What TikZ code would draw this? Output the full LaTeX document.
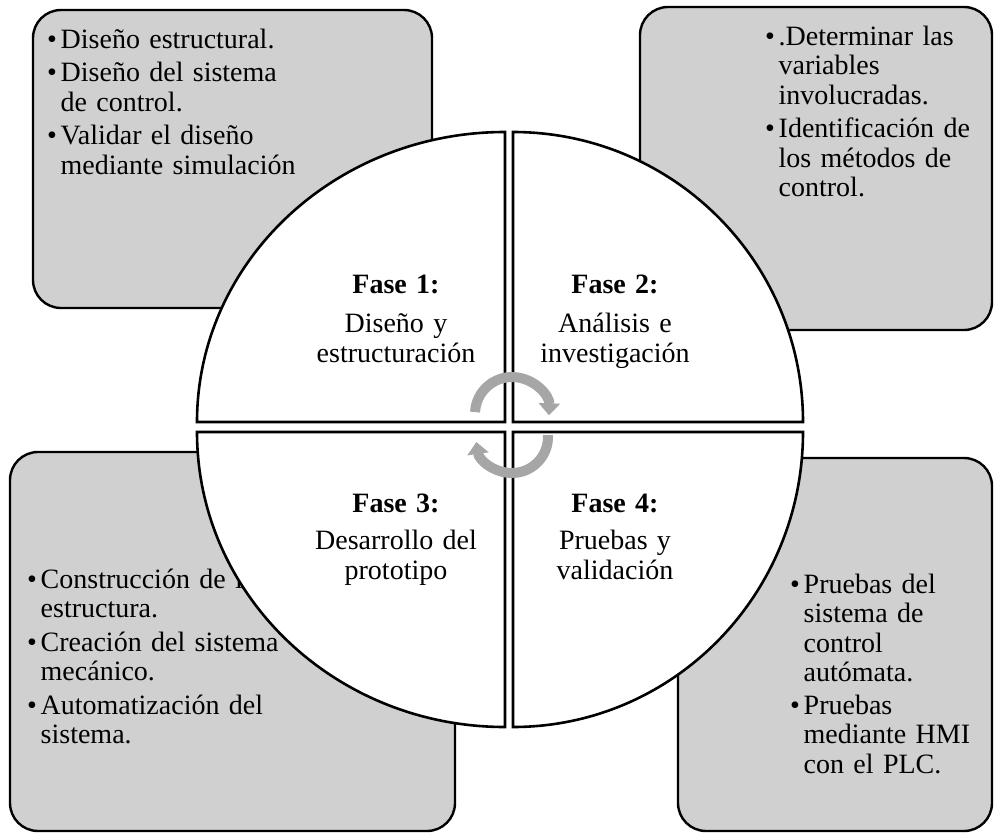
\documentclass[tikz,border=0pt]{standalone}
\usepackage{fontspec}
\setmainfont{Liberation Serif}
\usetikzlibrary{arrows.meta}
\definecolor{boxgray}{HTML}{D0D0D0}
\definecolor{cyclegray}{HTML}{A6A6A6}
\newcommand\itm{\makebox[13.5bp][l]{•}}
\newcommand\cnt{\hspace*{13.5bp}}
\begin{document}
\begin{tikzpicture}[x=1bp,y=-1bp,
  panel/.style={draw=black, line width=2.4bp, fill=boxgray, rounded corners=28bp},
  sector/.style={draw=black, line width=2.6bp, fill=white, line join=miter},
  bullets/.style={inner sep=0pt, anchor=base west, text width=420bp, align=left,
    font=\fontsize{28bp}{29.5bp}\selectfont},
  phase/.style={inner sep=0pt, anchor=base, text width=260bp, align=center,
    font=\fontsize{28bp}{29.5bp}\selectfont},
  cycle arrow/.style={draw=cyclegray, line width=10bp,
    -{Triangle[length=12bp,width=21bp]}}]
\useasboundingbox (0,0) rectangle (995,834);

% grey panels behind the circle
\draw[panel] (33,10) rectangle (432,308);
\draw[panel] (640,7) rectangle (992,330);
\draw[panel] (10,452) rectangle (455,831);
\draw[panel] (678,458) rectangle (992,831);

% panel texts
\node[bullets] (tasks1) at (47,48) {\itm Diseño estructural.\\[4bp]
  \itm Diseño del sistema\\ \cnt de control.\\[4bp]
  \itm Validar el diseño\\ \cnt mediante simulación};
\node[bullets] (tasks2) at (765,45) {\itm .Determinar las\\ \cnt variables\\
  \cnt involucradas.\\[4bp]
  \itm Identificación de\\ \cnt los métodos de\\ \cnt control.};
\node[bullets] (tasks3) at (27,588) {\itm Construcción de la\\ \cnt estructura.\\[4bp]
  \itm Creación del sistema\\ \cnt mecánico.\\[4bp]
  \itm Automatización del\\ \cnt sistema.};
\node[bullets] (tasks4) at (790,593) {\itm Pruebas del\\ \cnt sistema de\\
  \cnt control\\ \cnt autómata.\\[3bp]
  \itm Pruebas\\ \cnt mediante HMI\\ \cnt con el PLC.};

% four quarter sectors of the central circle
\draw[sector] (505,422) -- (197,422) arc[start angle=180, end angle=270, x radius=308, y radius=290] -- cycle;
\draw[sector] (513,422) -- (803,422) arc[start angle=0, end angle=-90, x radius=290, y radius=290] -- cycle;
\draw[sector] (505,432) -- (197,432) arc[start angle=180, end angle=90, x radius=308, y radius=295] -- cycle;
\draw[sector] (513,432) -- (803,432) arc[start angle=0, end angle=90, x radius=290, y radius=295] -- cycle;

% phase labels
\node[phase] (fase1) at (396,293) {\textbf{Fase 1:}\\[10bp] Diseño y\\ estructuración};
\node[phase] (fase2) at (615,293) {\textbf{Fase 2:}\\[10bp] Análisis e\\ investigación};
\node[phase] (fase3) at (396,512) {\textbf{Fase 3:}\\[8bp] Desarrollo del\\ prototipo};
\node[phase] (fase4) at (615,512) {\textbf{Fase 4:}\\[8bp] Pruebas y\\ validación};

% cycle arrows in the middle
\draw[cycle arrow] ([shift={(183:37)}]512,414) arc[start angle=183, end angle=362, radius=37];
\draw[cycle arrow] ([shift={(-3:36)}]512,437) arc[start angle=-3, end angle=172, radius=36];
\end{tikzpicture}
\end{document}
